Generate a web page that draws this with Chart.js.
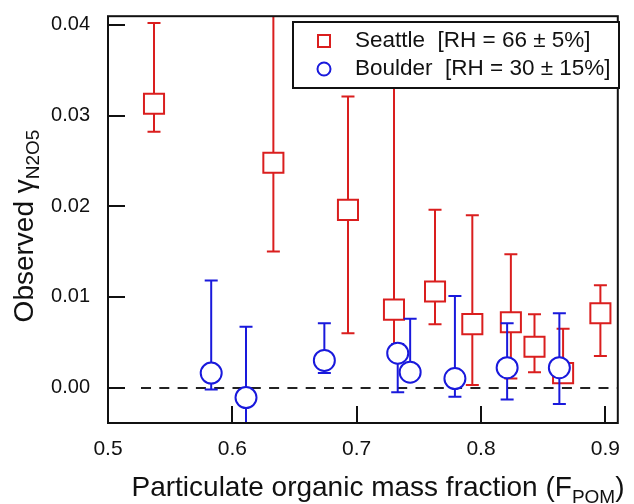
<!DOCTYPE html>
<html>
<head>
<meta charset="utf-8">
<script src="https://cdn.jsdelivr.net/npm/chart.js@4.4.1/dist/chart.umd.min.js"></script>
<style>
  html, body { margin: 0; padding: 0; background: #fff; }
  #wrap { width: 634px; height: 504px; }
</style>
</head>
<body>
<div id="wrap"><canvas id="c" width="634" height="504"></canvas></div>
<script>
// ---- Data ----
const seattleX    = [0.537, 0.633, 0.693, 0.730, 0.763, 0.793, 0.824, 0.843, 0.866, 0.896];
const seattleY    = [0.0313, 0.0248, 0.0196, 0.0086, 0.0106, 0.0070, 0.0072, 0.0045, 0.0016, 0.0082];
const seattleLow  = [0.0282, 0.0150, 0.0060, 0.0040, 0.0070, 0.0003, 0.0010, 0.0017, 0.0006, 0.0035];
const seattleHigh = [0.0402, 0.0460, 0.0321, 0.0360, 0.0196, 0.0190, 0.0147, 0.0081, 0.0065, 0.0113];

const boulderX    = [0.583, 0.611, 0.674, 0.733, 0.743, 0.779, 0.821, 0.863];
const boulderY    = [0.0016, -0.0011, 0.0030, 0.0038, 0.0017, 0.0010, 0.0022, 0.0022];
const boulderLow  = [-0.0002, -0.0060, 0.0016, -0.0005, 0.0010, -0.0010, -0.0013, -0.0018];
const boulderHigh = [0.0118, 0.0067, 0.0071, 0.0048, 0.0076, 0.0101, 0.0071, 0.0082];

const xTicks = [0.5, 0.6, 0.7, 0.8, 0.9];
const yTicks = [0.00, 0.01, 0.02, 0.03, 0.04];

const seattleLabel = 'Seattle  [RH = 66 \u00b1 5%]';
const boulderLabel = 'Boulder  [RH = 30 \u00b1 15%]';
const xTitle = 'Particulate organic mass fraction (F';
const xTitleSub = 'POM';
const yTitle = 'Observed \u03b3';
const yTitleSub = 'N2O5';

const RED = 'rgb(218,30,30)';
const BLUE = 'rgb(25,25,220)';
const FONT = 'Arial, "Liberation Sans", sans-serif';

const errLow = [seattleLow, boulderLow];
const errHigh = [seattleHigh, boulderHigh];

function toPoints(xs, ys) { return xs.map((x, i) => ({ x: x, y: ys[i] })); }

function zeroPad(s) { s.paddingTop = 0; s.paddingBottom = 0; s.paddingLeft = 0; s.paddingRight = 0; }

const custom = {
  id: 'custom',
  beforeDatasetsDraw(chart) {
    const ctx = chart.ctx, a = chart.chartArea, y = chart.scales.y;
    ctx.save();
    ctx.strokeStyle = '#222';
    ctx.lineWidth = 2;
    ctx.setLineDash([10, 8.3]);
    const y0 = Math.round(y.getPixelForValue(0));
    ctx.beginPath();
    ctx.moveTo(a.left + 33, y0);
    ctx.lineTo(a.right, y0);
    ctx.stroke();
    ctx.restore();
  },
  beforeDatasetDraw(chart, args) {
    const ctx = chart.ctx, a = chart.chartArea;
    const xs = chart.scales.x, ys = chart.scales.y;
    const i = args.index;
    const ds = chart.data.datasets[i];
    ctx.save();
    ctx.beginPath();
    ctx.rect(a.left, a.top, a.right - a.left, a.bottom - a.top);
    ctx.clip();
    ctx.strokeStyle = ds.borderColor;
    ctx.lineWidth = 2;
    ds.data.forEach((p, k) => {
      const px = xs.getPixelForValue(p.x);
      const lo = ys.getPixelForValue(errLow[i][k]);
      const hi = ys.getPixelForValue(errHigh[i][k]);
      ctx.beginPath();
      ctx.moveTo(px, lo); ctx.lineTo(px, hi);
      ctx.moveTo(px - 6.5, lo); ctx.lineTo(px + 6.5, lo);
      ctx.moveTo(px - 6.5, hi); ctx.lineTo(px + 6.5, hi);
      ctx.stroke();
    });
    ctx.restore();
  },
  afterDraw(chart) {
    const ctx = chart.ctx, a = chart.chartArea;
    const xs = chart.scales.x, ys = chart.scales.y;
    ctx.save();
    // ticks (inside)
    ctx.strokeStyle = '#111';
    ctx.lineWidth = 2;
    ctx.beginPath();
    yTicks.forEach(v => {
      const py = Math.round(ys.getPixelForValue(v));
      ctx.moveTo(a.left, py); ctx.lineTo(a.left + 17, py);
    });
    xTicks.forEach(v => {
      const px = Math.round(xs.getPixelForValue(v));
      ctx.moveTo(px, a.bottom); ctx.lineTo(px, a.bottom - 17);
    });
    ctx.stroke();
    // frame
    ctx.lineWidth = 2;
    ctx.strokeStyle = '#111';
    ctx.strokeRect(a.left, a.top, a.right - a.left, a.bottom - a.top);

    // legend
    const lx = 293, ly = 22, lw = 326, lh = 66;
    ctx.fillStyle = '#fff';
    ctx.fillRect(lx, ly, lw, lh);
    ctx.lineWidth = 2;
    ctx.strokeStyle = '#111';
    ctx.strokeRect(lx, ly, lw, lh);
    ctx.lineWidth = 2;
    ctx.strokeStyle = RED;
    ctx.strokeRect(318, 35, 12, 12);
    ctx.strokeStyle = BLUE;
    ctx.beginPath();
    ctx.arc(324, 69, 6.5, 0, Math.PI * 2);
    ctx.stroke();
    ctx.fillStyle = '#111';
    ctx.font = '22.5px ' + FONT;
    ctx.textBaseline = 'middle';
    ctx.textAlign = 'left';
    ctx.fillText(seattleLabel, 355, 41);
    ctx.fillText(boulderLabel, 355, 69);

    // x title
    ctx.textBaseline = 'alphabetic';
    ctx.font = '28px ' + FONT;
    const mainW = ctx.measureText(xTitle).width;
    ctx.font = '19px ' + FONT;
    const subW = ctx.measureText(xTitleSub).width;
    ctx.font = '28px ' + FONT;
    const closeW = ctx.measureText(')').width;
    let tx = 378 - (mainW + subW + closeW) / 2;
    ctx.fillText(xTitle, tx, 496);
    ctx.font = '19px ' + FONT;
    ctx.fillText(xTitleSub, tx + mainW, 503);
    ctx.font = '28px ' + FONT;
    ctx.fillText(')', tx + mainW + subW, 496);

    // y title (rotated)
    ctx.translate(33, 0);
    ctx.rotate(-Math.PI / 2);
    ctx.font = '28px ' + FONT;
    const yw = ctx.measureText(yTitle).width;
    ctx.font = '19px ' + FONT;
    const ysw = ctx.measureText(yTitleSub).width;
    const startY = -(226 + (yw + ysw) / 2); // along rotated x
    ctx.font = '28px ' + FONT;
    ctx.fillText(yTitle, startY, 0);
    ctx.font = '19px ' + FONT;
    ctx.fillText(yTitleSub, startY + yw, 6);
    ctx.restore();
  }
};

new Chart(document.getElementById('c'), {
  type: 'scatter',
  data: {
    datasets: [
      {
        label: seattleLabel,
        data: toPoints(seattleX, seattleY),
        pointStyle: 'rect',
        pointRadius: 14.2,
        borderColor: RED,
        backgroundColor: '#fff',
        pointBorderWidth: 2,
        order: 1
      },
      {
        label: boulderLabel,
        data: toPoints(boulderX, boulderY),
        pointStyle: 'circle',
        pointRadius: 10.5,
        borderColor: BLUE,
        backgroundColor: '#fff',
        pointBorderWidth: 2,
        order: 0
      }
    ]
  },
  options: {
    responsive: false,
    animation: false,
    devicePixelRatio: 1,
    layout: { padding: { top: 13, right: 7, left: 0, bottom: 0 } },
    plugins: { legend: { display: false }, tooltip: { enabled: false } },
    scales: {
      x: {
        type: 'linear',
        min: 0.5,
        max: 0.91,
        afterBuildTicks: s => { s.ticks = xTicks.map(v => ({ value: v })); },
        afterFit: s => { s.height = 81; zeroPad(s); },
        grid: { display: false, drawTicks: false },
        border: { display: false },
        ticks: {
          padding: 14,
          color: '#111',
          font: { family: FONT, size: 21 },
          callback: v => Number(v).toFixed(1),
          maxRotation: 0,
          autoSkip: false
        }
      },
      y: {
        type: 'linear',
        min: -0.0039,
        max: 0.04095,
        afterBuildTicks: s => { s.ticks = yTicks.map(v => ({ value: v })); },
        afterFit: s => { s.width = 108; zeroPad(s); },
        grid: { display: false, drawTicks: false },
        border: { display: false },
        ticks: {
          padding: 18,
          color: '#111',
          font: { family: FONT, size: 20 },
          callback: v => Number(v).toFixed(2),
          autoSkip: false
        }
      }
    }
  },
  plugins: [custom]
});
</script>
</body>
</html>
